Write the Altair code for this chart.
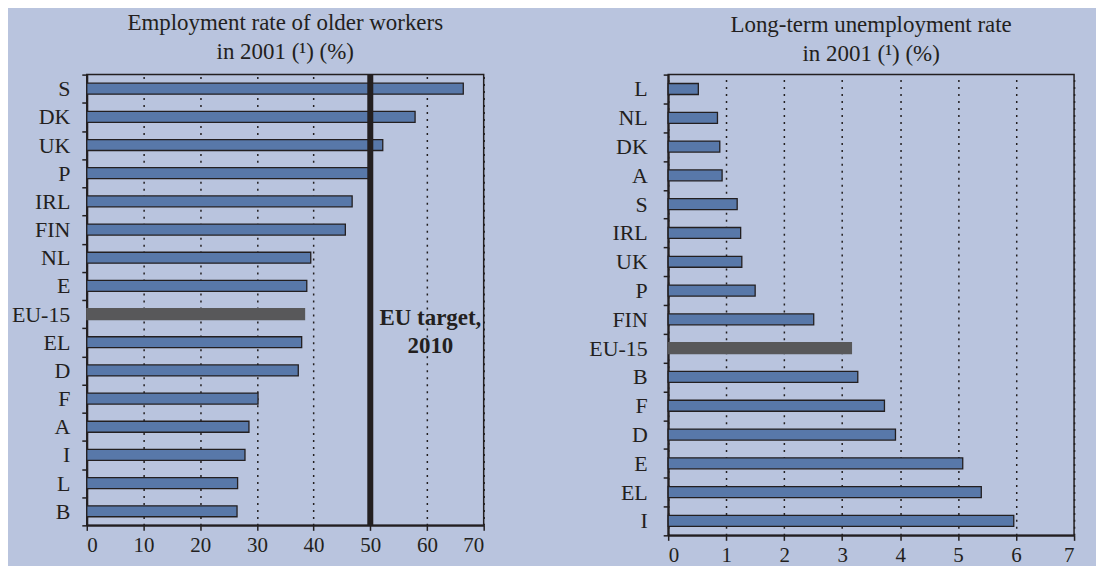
import altair as alt
import pandas as pd

# ---- data ----
emp_countries = ["S", "DK", "UK", "P", "IRL", "FIN", "NL", "E", "EU-15",
                 "EL", "D", "F", "A", "I", "L", "B"]
emp_values = [66.4, 57.9, 52.2, 50.3, 46.8, 45.6, 39.5, 38.8, 38.4,
              37.9, 37.3, 30.2, 28.6, 27.9, 26.6, 26.5]

ltu_countries = ["L", "NL", "DK", "A", "S", "IRL", "UK", "P", "FIN",
                 "EU-15", "B", "F", "D", "E", "EL", "I"]
ltu_values = [0.52, 0.85, 0.89, 0.93, 1.19, 1.25, 1.27, 1.50, 2.51,
              3.16, 3.27, 3.73, 3.92, 5.08, 5.40, 5.96]

emp_ticks = [0, 10, 20, 30, 40, 50, 60, 70]
ltu_ticks = [0, 1, 2, 3, 4, 5, 6, 7]

target_value = [50]
anno_lines = ["EU target,", "2010"]
anno_rows = ["EU-15", "EL"]
anno_x = [60.6, 60.6]

emp_title = ["Employment rate of older workers", "in 2001 (\u00b9) (%)"]
ltu_title = ["Long-term unemployment rate", "in 2001 (\u00b9) (%)"]

# ---- style ----
FONT = "Liberation Serif"
INK = "#231f20"
BAR = "#5878a9"
EUBAR = "#58585a"
BG = "#b9c4de"

emp_df = pd.DataFrame({"country": emp_countries, "value": emp_values})
ltu_df = pd.DataFrame({"country": ltu_countries, "value": ltu_values})
target_df = pd.DataFrame({"t": target_value})
anno_df = pd.DataFrame({"country": anno_rows, "line": anno_lines, "x": anno_x})

is_eu = alt.datum.country == "EU-15"


def bars(df, order, domain, ticks, label_pad):
    return alt.Chart(df).mark_bar(size=11, strokeWidth=1.3).encode(
        y=alt.Y("country:N", sort=order,
                scale=alt.Scale(paddingInner=0, paddingOuter=0),
                axis=alt.Axis(title=None, tickBand="extent", labelPadding=label_pad,
                              labelFontSize=22, grid=False)),
        x=alt.X("value:Q", scale=alt.Scale(domain=domain, nice=False, zero=True),
                axis=alt.Axis(title=None, values=ticks, grid=True, labelFontSize=21,
                              labelPadding=4)),
        color=alt.condition(is_eu, alt.value(EUBAR), alt.value(BAR)),
        stroke=alt.condition(is_eu, alt.value(EUBAR), alt.value(INK)),
    )


left_bars = bars(emp_df, emp_countries, [0, 70], emp_ticks, 12)
target = alt.Chart(target_df).mark_rule(strokeWidth=6, color=INK).encode(x="t:Q")
anno = alt.Chart(anno_df).mark_text(
    font=FONT, fontSize=23, fontWeight="bold", color=INK, align="center", dy=4
).encode(
    x="x:Q",
    y=alt.Y("country:N", sort=emp_countries),
    text="line:N",
)

left = alt.layer(left_bars, target, anno).properties(
    width=398, height=452,
    title=alt.Title(emp_title, fontSize=23, font=FONT, fontWeight="normal",
                    color=INK, lineHeight=29, offset=0, anchor="middle"),
)

right = bars(ltu_df, ltu_countries, [0, 7], ltu_ticks, 16).properties(
    width=407, height=462,
    title=alt.Title(ltu_title, fontSize=23, font=FONT, fontWeight="normal",
                    color=INK, lineHeight=29, offset=-2, anchor="middle"),
)

chart = alt.hconcat(left, right, spacing=102).configure(
    background=BG,
    padding={"left": 2, "top": 2, "right": 20, "bottom": 10},
).configure_view(
    stroke=INK, strokeWidth=1.5, fill=None,
).configure_axis(
    labelFont=FONT, labelColor=INK,
    domainColor=INK, domainWidth=2,
    tickColor=INK, tickWidth=1.5, tickSize=5,
    gridColor=INK, gridDash=[2, 5], gridWidth=1.5, gridOpacity=1,
).configure_title(font=FONT)

chart.save("out.html", embed_options={"renderer": "svg", "actions": False})
